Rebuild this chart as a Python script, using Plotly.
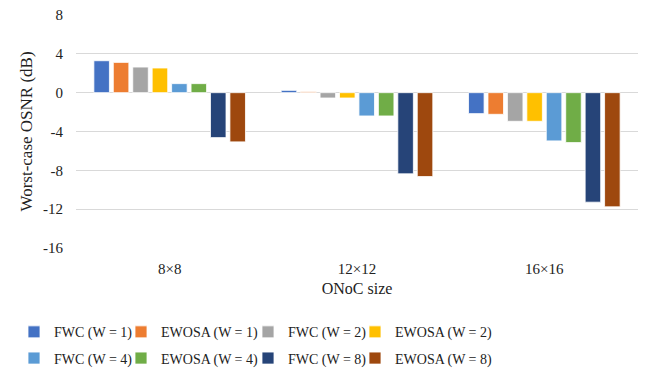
import plotly.graph_objects as go

# ONoC sizes on the x axis
sizes = ["8×8", "12×12", "16×16"]

# Worst-case OSNR (dB) for each scheme and wavelength count
fwc_w1 = [3.29, 0.24, -2.16]
ewosa_w1 = [3.12, 0.10, -2.23]
fwc_w2 = [2.64, -0.55, -2.95]
ewosa_w2 = [2.54, -0.55, -2.95]
fwc_w4 = [0.93, -2.40, -4.97]
ewosa_w4 = [0.93, -2.40, -5.14]
fwc_w8 = [-4.63, -8.36, -11.28]
ewosa_w8 = [-5.07, -8.64, -11.76]

# (name, values, colour, legend column)
series = [
    ("FWC (W = 1)", fwc_w1, "#4472C4", "legend"),
    ("EWOSA (W = 1)", ewosa_w1, "#ED7D31", "legend2"),
    ("FWC (W = 2)", fwc_w2, "#A5A5A5", "legend3"),
    ("EWOSA (W = 2)", ewosa_w2, "#FFC000", "legend4"),
    ("FWC (W = 4)", fwc_w4, "#5B9BD5", "legend"),
    ("EWOSA (W = 4)", ewosa_w4, "#70AD47", "legend2"),
    ("FWC (W = 8)", fwc_w8, "#264478", "legend3"),
    ("EWOSA (W = 8)", ewosa_w8, "#9E480E", "legend4"),
]

y_ticks = [8, 4, 0, -4, -8, -12, -16]

serif = "Liberation Serif"

fig = go.Figure()
for name, vals, color, leg in series:
    fig.add_trace(go.Bar(
        x=sizes, y=vals, name=name, legend=leg, legendgroup=name,
        marker=dict(color=color, line=dict(color="rgba(255,255,255,0.8)", width=1)),
    ))

# one legend per column, laid out in a 4 x 2 grid under the plot
col_x = [14, 121, 248, 355]
plot_l, plot_w = 76, 562
legend_common = dict(
    orientation="v", xanchor="left", y=-0.293, yanchor="top",
    font=dict(family=serif, size=14, color="#222"),
    itemwidth=30, tracegroupgap=5, bgcolor="rgba(0,0,0,0)",
)
legends = {}
for i, px in enumerate(col_x):
    key = "legend" if i == 0 else f"legend{i + 1}"
    legends[key] = dict(legend_common, x=(px - plot_l) / plot_w)

fig.update_layout(
    width=646, height=368,
    margin=dict(l=76, r=8, t=15, b=120, autoexpand=False),
    paper_bgcolor="white", plot_bgcolor="white",
    barmode="group", bargap=0.17, bargroupgap=0.2,
    font=dict(family=serif, size=15, color="#222"),
    showlegend=True,
    **legends,
    xaxis=dict(
        title=dict(text="ONoC size", font=dict(family=serif, size=16), standoff=6),
        showgrid=False, showline=False, ticks="",
        tickfont=dict(family=serif, size=15),
        ticklabelstandoff=10,
    ),
    yaxis=dict(
        title=dict(text="Worst-case OSNR (dB)", font=dict(family=serif, size=17), standoff=6),
        range=[-16, 8], tickvals=y_ticks, ticktext=[str(v) for v in y_ticks],
        showgrid=True, gridcolor="#D9D9D9", gridwidth=1,
        zeroline=True, zerolinecolor="#D9D9D9", zerolinewidth=1,
        showline=False, ticks="", tickfont=dict(family=serif, size=15),
        ticklabelstandoff=12,
    ),
)

fig.write_html("out.html")
